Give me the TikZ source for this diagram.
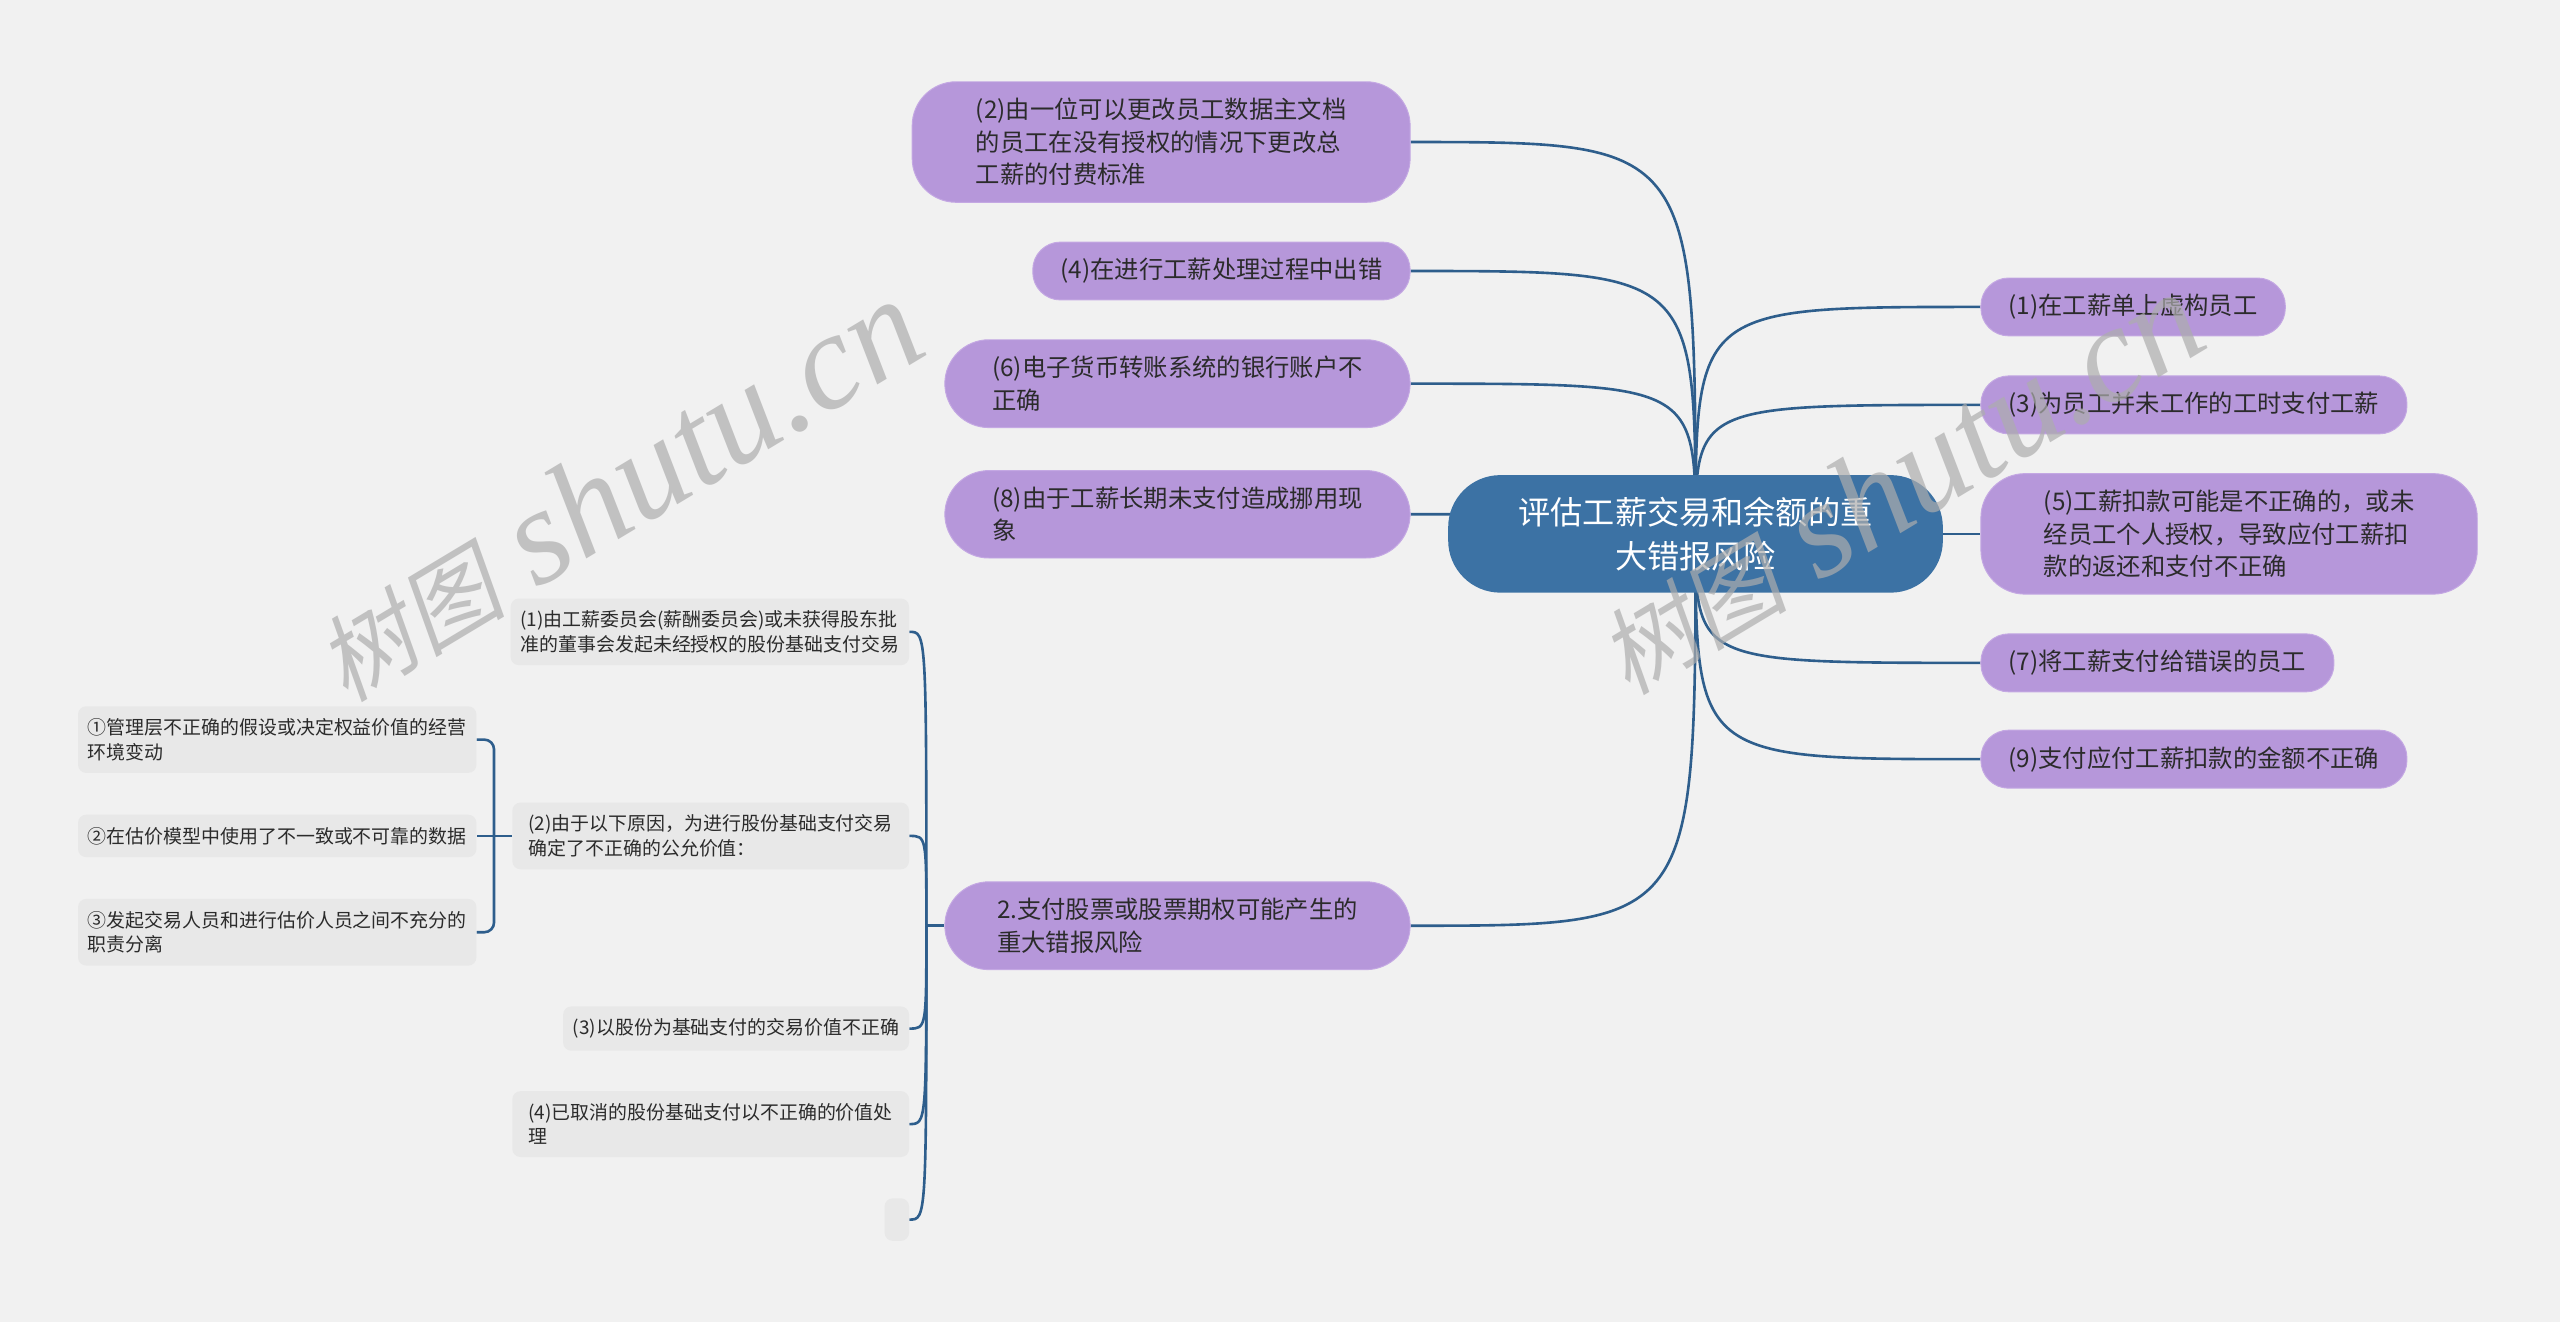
\documentclass[tikz,border=0pt]{standalone}
\usepackage{fontspec}
\setmainfont{Noto Sans CJK SC}
\newfontfamily\wmcjk[FakeSlant=0.2]{Noto Sans CJK SC}
\newfontfamily\wmlat{Liberation Serif}
\usepackage{xcolor}
\usetikzlibrary{positioning}
\definecolor{paper}{HTML}{F1F1F1}
\definecolor{hubcol}{HTML}{3C72A4}
\definecolor{topiccol}{HTML}{B697DA}
\definecolor{topicedge}{HTML}{C4A8E3}
\definecolor{leafcol}{HTML}{E8E8E8}
\definecolor{wirecol}{HTML}{2E5E8C}
\definecolor{ink}{HTML}{2B2B2B}
\definecolor{wmcol}{HTML}{ADADAD}
\pgfdeclarelayer{back}
\pgfdeclarelayer{wires}
\pgfsetlayers{back,wires,main}

\begin{document}
\begin{tikzpicture}[x=1pt, y=-1pt]
\tikzstyle{hub} = [rectangle, rounded corners=32pt, fill=hubcol, text=white,
    align=center, minimum width=303pt, minimum height=72pt,
    font=\fontsize{19.7}{27}\selectfont]
\tikzstyle{topic} = [rectangle, rounded corners=17pt, fill=topiccol, draw=topicedge,
    line width=0.6pt, text=ink, align=left, inner xsep=17pt, inner ysep=10pt,
    minimum height=34pt, font=\fontsize{14.9}{20}\selectfont]
\tikzstyle{bigtopic} = [topic, rounded corners=27pt]
\tikzstyle{leaf} = [rectangle, rounded corners=5pt, fill=leafcol, text=ink,
    align=left, inner xsep=6pt, inner ysep=7.5pt, minimum height=26pt,
    font=\fontsize{11.6}{15}\selectfont]
\tikzstyle{wire} = [draw=wirecol, line width=1.6pt]
\tikzstyle{stamp} = [text=wmcol, opacity=0.7, rotate=31, anchor=base west, inner sep=0pt]

\useasboundingbox (0,0) rectangle (1568,810);
\begin{pgfonlayer}{back}
\fill[paper] (0,0) rectangle (1568,810);
\end{pgfonlayer}

\node (hub) [hub] at (1038.5,327) {评估工薪交易和余额的重\\大错报风险};

\node (r1) [topic, anchor=west] at (1213,188) {(1)在工薪单上虚构员工};
\node (r3) [topic, anchor=west] at (1213,248) {(3)为员工并未工作的工时支付工薪};
\node (r5) [bigtopic, anchor=west, minimum width=304pt] at (1213,327)
    {(5)工薪扣款可能是不正确的，或未\\经员工个人授权，导致应付工薪扣\\款的返还和支付不正确};
\node (r7) [topic, anchor=west] at (1213,406) {(7)将工薪支付给错误的员工};
\node (r9) [topic, anchor=west] at (1213,465) {(9)支付应付工薪扣款的金额不正确};

\node (l2) [bigtopic, anchor=east, minimum width=305pt] at (864,87)
    {(2)由一位可以更改员工数据主文档\\的员工在没有授权的情况下更改总\\工薪的付费标准};
\node (l4) [topic, anchor=east] at (864,166) {(4)在进行工薪处理过程中出错};
\node (l6) [bigtopic, anchor=east, minimum width=285pt] at (864,235)
    {(6)电子货币转账系统的银行账户不\\正确};
\node (l8) [bigtopic, anchor=east, minimum width=285pt] at (864,315)
    {(8)由于工薪长期未支付造成挪用现\\象};
\node (stock) [bigtopic, anchor=east, minimum width=285pt] at (864,567)
    {2.支付股票或股票期权可能产生的\\重大错报风险};

\node (g1) [leaf, anchor=east, minimum width=243pt] at (557,387)
    {(1)由工薪委员会(薪酬委员会)或未获得股东批\\准的董事会发起未经授权的股份基础支付交易};
\node (g2) [leaf, anchor=east, minimum width=243pt] at (557,512)
    {(2)由于以下原因，为进行股份基础支付交易\\确定了不正确的公允价值：};
\node (g3) [leaf, anchor=east] at (557,630) {(3)以股份为基础支付的交易价值不正确};
\node (g4) [leaf, anchor=east, minimum width=243pt] at (557,688.5)
    {(4)已取消的股份基础支付以不正确的价值处\\理};
\node (g5) [leaf, anchor=east, inner xsep=0pt, minimum width=15pt] at (557,747) {};

\node (a1) [leaf, anchor=east, minimum width=242pt] at (292,453)
    {①管理层不正确的假设或决定权益价值的经营\\环境变动};
\node (a2) [leaf, anchor=east, minimum width=242pt] at (292,512)
    {②在估价模型中使用了不一致或不可靠的数据};
\node (a3) [leaf, anchor=east, minimum width=242pt] at (292,571)
    {③发起交易人员和进行估价人员之间不充分的\\职责分离};

\coordinate [left=11pt of stock.west] (j1);
\coordinate [left=11pt of g2.west] (j2);

\begin{pgfonlayer}{wires}
\foreach \n in {r1,r3,r5,r7,r9}
  \path[wire] (hub.center) .. controls (hub.center |- \n.west) .. (\n.west);
\foreach \n in {l2,l4,l6,l8,stock}
  \path[wire] (hub.center) .. controls (hub.center |- \n.east) .. (\n.east);
\path[wire] (stock.west) -- (j1);
\foreach \n in {g1,g2,g3,g4,g5}
  \path[wire] (j1) .. controls (j1 |- \n.east) .. (\n.east);
\path[wire] (g2.west) -- (a2.east);
\path[wire, rounded corners=6pt] (a1.east) -| (j2) |- (a3.east);
\end{pgfonlayer}

\node (wm1) [stamp] at (212,431)
    {{\fontsize{58}{58}\selectfont\wmcjk 树图}\hspace{20pt}{\fontsize{84}{84}\selectfont\wmlat\itshape shutu.cn}};
\node (wm2) [stamp] at (997,427)
    {{\fontsize{58}{58}\selectfont\wmcjk 树图}\hspace{20pt}{\fontsize{84}{84}\selectfont\wmlat\itshape shutu.cn}};
\end{tikzpicture}
\end{document}
